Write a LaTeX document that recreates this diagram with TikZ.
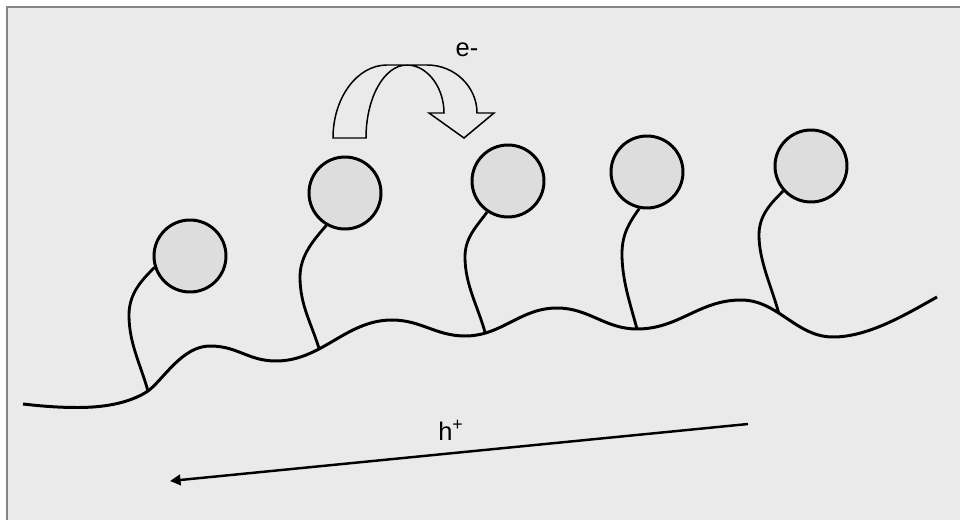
\documentclass[tikz,border=0pt]{standalone}
\usepackage{fontspec}
\setmainfont{Liberation Sans}
\usetikzlibrary{arrows.meta}
\definecolor{bggray}{HTML}{EAEAEA}
\definecolor{framegray}{HTML}{858585}
\definecolor{ballgray}{HTML}{DDDDDD}
\tikzset{
  ball/.style={circle,draw,fill=ballgray,line width=1.7pt,inner sep=0pt,minimum size=1.44cm},
  chain/.style={line width=1.7pt},
  stem/.style={line width=1.6pt},
  lbl/.style={font=\fontsize{14.5}{17}\selectfont,inner sep=0pt,anchor=base},
}

\begin{document}
\begin{tikzpicture}[x=0.02cm,y=-0.02cm]
	\useasboundingbox (0,0) rectangle (960,520);
	\fill[bggray] (7,7) rectangle (960,520);
	\draw[framegray,line width=1.2pt] (7,520) -- (7,7) -- (960,7);
	
	% backbone
	\draw[chain] (23,404) .. controls (45,406.5) and (60,407.5) .. (78,407.5)
		.. controls (110,407.5) and (133,401) .. (148,391) coordinate (a1)
		.. controls (163,380) and (182,346) .. (210,346)
		.. controls (238,346) and (248,361) .. (276,361)
		.. controls (322,361) and (346,320) .. (392,320) coordinate[pos=0.36] (a2)
		.. controls (421,320) and (436,336) .. (465,336)
		.. controls (502,336) and (520,308) .. (557,308) coordinate[pos=0.2] (a3)
		.. controls (589,308) and (605,329) .. (637,329) coordinate (a4)
		.. controls (679,329) and (699,300) .. (741,300)
		.. controls (778,300) and (796,337) .. (833,337) coordinate[pos=0.4] (a5)
		.. controls (868,337) and (905,315) .. (937,297);
	
	% side groups
	\node[ball] (b1) at (190,256) {};
	\node[ball] (b2) at (345,193) {};
	\node[ball] (b3) at (508,181) {};
	\node[ball] (b4) at (647,172) {};
	\node[ball] (b5) at (811,166) {};
	
	\draw[stem] (b1.198) .. controls +(-12,12) and +(0,-22) .. (129,315) .. controls +(0,28) and +(-8,-28) .. (a1);
	\draw[stem] (b2.240) .. controls +(-12,14) and +(0,-22) .. (300,277) .. controls +(0,28) and +(-8,-26) .. (a2);
	\draw[stem] (b3.236) .. controls +(-10,14) and +(0,-20) .. (465,257) .. controls +(0,28) and +(-7,-26) .. (a3);
	\draw[stem] (b4.258) .. controls +(-10,14) and +(0,-20) .. (622,254) .. controls +(0,26) and +(-7,-26) .. (a4);
	\draw[stem] (b5.222) .. controls +(-12,12) and +(0,-20) .. (759,235) .. controls +(0,26) and +(-7,-26) .. (a5);
	
	% electron hop
	\draw[line width=0.85pt] (333,138) .. controls (333,98) and (357,65) .. (387,65) -- (427,65)
		.. controls (455,65) and (477,87) .. (477,113) -- (494,113) -- (464,138) -- (429,113) -- (444,113)
		.. controls (444,87) and (427,65) .. (407,65) .. controls (384,65) and (366,98) .. (366,138) -- cycle;
	\node[lbl] (elbl) at (467,57) {e-};
	
	% hole transport
	\coordinate (hs) at (748,424);
	\coordinate (he) at (170,481);
	\draw[line width=1.4pt,-{Triangle[length=6pt,width=6pt]}] (hs) -- (he);
	\node[lbl] (hlbl) at (451,440) {h\textsuperscript{+}};
\end{tikzpicture}
\end{document}
